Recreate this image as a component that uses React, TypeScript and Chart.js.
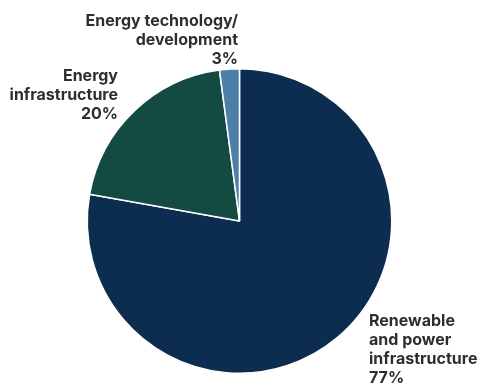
import React, { useEffect, useRef } from "react";
import { Chart, registerables } from "chart.js";

Chart.register(...registerables);

const categories = [
  "Renewable and power infrastructure",
  "Energy infrastructure",
  "Energy technology/development",
];
const shares = [77.8, 20.1, 2.1];
const percentLabels = ["77%", "20%", "3%"];
const labelLines = [
  ["Renewable", "and power", "infrastructure"],
  ["Energy", "infrastructure"],
  ["Energy technology/", "development"],
];
const colors = ["#0c2d50", "#134b43", "#4d80a8"];

// label placement (x, first baseline, alignment)
const labelPlacement = [
  { x: 369, y: 326, align: "left" },
  { x: 118, y: 81, align: "right" },
  { x: 238, y: 26, align: "right" },
];

const labelPlugin = {
  id: "sliceLabels",
  afterDraw(chart: any) {
    const ctx = chart.ctx;
    ctx.save();
    ctx.font = "700 16px Inter, 'Liberation Sans', Arial, sans-serif";
    ctx.fillStyle = "#2e2e2e";
    ctx.textBaseline = "alphabetic";
    const lh = 19;
    labelLines.forEach((lines, i) => {
      const p = labelPlacement[i];
      ctx.textAlign = p.align;
      const all = [...lines, percentLabels[i]];
      all.forEach((t, j) => ctx.fillText(t, p.x, p.y + j * lh));
    });
    ctx.restore();
  },
};

export default function App() {
  const ref = useRef<HTMLCanvasElement>(null);
  useEffect(() => {
    document.body.style.margin = "0";
    let chart: Chart | null = null;
    chart = new Chart(ref.current!, {
      type: "pie",
      data: {
        labels: categories,
        datasets: [
          {
            data: shares,
            backgroundColor: colors,
            borderColor: "#ffffff",
            borderWidth: 1.5,
          },
        ],
      },
      options: {
        animation: false,
        responsive: false,
        layout: { padding: { top: 68, bottom: 9, left: 86, right: 88 } },
        plugins: { legend: { display: false }, tooltip: { enabled: false } },
      },
      plugins: [labelPlugin],
    });
    const fonts: any = (document as any).fonts;
    if (fonts && fonts.load) {
      fonts.load("700 16px Inter").then(() => chart && chart.draw()).catch(() => {});
    }
    return () => { if (chart) chart.destroy(); };
  }, []);
  return (
    <div style={{ width: 481, height: 383 }}>
      <canvas ref={ref} width={481} height={383} />
    </div>
  );
}
